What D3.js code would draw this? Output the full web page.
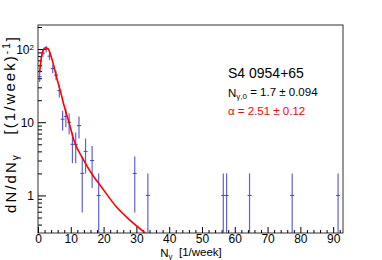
<!DOCTYPE html>
<html>
<head>
<meta charset="utf-8">
<script src="https://cdn.jsdelivr.net/npm/d3@7"></script>
<style>
  body { margin: 0; background: #fff; }
  svg text { font-family: "Liberation Sans", Arial, sans-serif; }
</style>
</head>
<body>
<svg id="chart"></svg>
<script>
WIDTH = 382;
HEIGHT = 260;
MARGIN = { top: 25, right: 39, bottom: 27, left: 38 };

// histogram: number of weeks (dN) vs photons per week (bin lower edge)
var binEdges = [0, 1, 2, 3, 4, 5, 6, 7, 8, 9, 10, 11, 12, 13, 14, 16, 18, 29, 33, 56, 57, 64, 77, 91];
var binCounts = [42, 88, 100, 80, 54, 44, 27, 11, 12, 10, 5, 5, 9, 2, 4, 3, 1, 2, 1, 1, 1, 1, 1, 1];

// fitted curve
var fitN = [0.5, 1.0, 1.5, 2.2, 3.0, 3.8, 4.8, 5.8, 6.8, 8.0, 9.3, 11, 14, 17, 19, 24, 28, 33];
var fitV = [48, 76, 94, 104, 102, 85, 59, 39, 27, 16.5, 10.5, 5.6, 3.0, 1.8, 1.37, 0.69, 0.46, 0.30];

var xTicks = [0, 10, 20, 30, 40, 50, 60, 70, 80, 90];
var yTicks = [1, 10, 100];

function buildChart() {
    var svg = d3.select("#chart").attr("width", WIDTH).attr("height", HEIGHT);
    var w = WIDTH - MARGIN.left - MARGIN.right;
    var h = HEIGHT - MARGIN.top - MARGIN.bottom;
    var g = svg.append("g")
        .attr("transform", "translate(" + MARGIN.left + "," + MARGIN.top + ")");

    var x = d3.scaleLinear().domain([0, 93]).range([0, w]);
    var y = d3.scaleLog().domain([0.307, 213]).range([h, 0]);

    g.append("clipPath").attr("id", "clip")
        .append("rect").attr("width", w).attr("height", h);

    // frame
    g.append("rect")
        .attr("width", w).attr("height", h)
        .attr("fill", "none").attr("stroke", "#333").attr("stroke-width", 1);

    // x axis: major + minor ticks pointing inward
    var xMinor = d3.range(0, 93, 2).filter(function(v) { return v % 10 != 0; });
    g.append("g")
        .attr("transform", "translate(0," + h + ")")
        .call(d3.axisBottom(x).tickValues(xMinor).tickSize(-3).tickFormat(""))
        .call(styleAxis);
    g.append("g")
        .attr("transform", "translate(0," + h + ")")
        .call(d3.axisBottom(x).tickValues(xTicks).tickSize(-6))
        .call(styleAxis)
        .selectAll("text").attr("font-size", 12).attr("dy", "0.71em").attr("y", 1.5);

    // y axis (log)
    var yMinor = [];
    [0.1, 1, 10, 100].forEach(function(d) {
        for (var k = 2; k <= 9; k++) {
            var v = d * k;
            if (v >= 0.307 && v <= 213) yMinor.push(v);
        }
    });
    g.append("g")
        .call(d3.axisLeft(y).tickValues(yMinor).tickSize(-4).tickFormat(""))
        .call(styleAxis);
    var yAx = g.append("g")
        .call(d3.axisLeft(y).tickValues(yTicks).tickSize(-8).tickFormat(""))
        .call(styleAxis);
    yAx.selectAll(".tick").append("text")
        .attr("x", -4).attr("dy", "0.35em")
        .attr("text-anchor", "end").attr("fill", "#000").attr("font-size", 12)
        .each(function(d) {
            var t = d3.select(this);
            if (d == 100) {
                t.text("10");
                t.append("tspan").attr("dy", "-0.45em").attr("font-size", 8).text("2");
            } else {
                t.text(d == 10 ? "10" : "1");
            }
        });

    var plot = g.append("g").attr("clip-path", "url(#clip)");

    // error bars
    var blue = "#4646c4";
    var pts = binEdges.map(function(e, i) { return { n: e + 0.5, v: binCounts[i] }; });
    plot.selectAll(".err")
        .data(pts)
        .enter().append("line")
        .attr("x1", function(d) { return x(d.n); })
        .attr("x2", function(d) { return x(d.n); })
        .attr("y1", function(d) { return y(d.v + Math.sqrt(d.v)); })
        .attr("y2", function(d) {
            var lo = d.v - Math.sqrt(d.v);
            return lo > 0.307 ? y(lo) : h;
        })
        .attr("stroke", blue).attr("stroke-width", 1.2).attr("stroke-opacity", 0.85);
    plot.selectAll(".cap")
        .data(pts)
        .enter().append("line")
        .attr("x1", function(d) { return x(d.n) - 2; })
        .attr("x2", function(d) { return x(d.n) + 2; })
        .attr("y1", function(d) { return y(d.v); })
        .attr("y2", function(d) { return y(d.v); })
        .attr("stroke", blue).attr("stroke-width", 1);

    // fit curve
    var line = d3.line()
        .x(function(d, i) { return x(fitN[i]); })
        .y(function(d) { return y(d); })
        .curve(d3.curveMonotoneX);
    plot.append("path")
        .datum(fitV)
        .attr("d", line)
        .attr("fill", "none").attr("stroke", "#ff0000").attr("stroke-width", 1.6);

    // legend text
    g.append("text")
        .attr("x", 190).attr("y", 53)
        .attr("font-size", 14).attr("fill", "#000")
        .text("S4 0954+65");
    var t2 = g.append("text")
        .attr("x", 190).attr("y", 72)
        .attr("font-size", 11.5).attr("fill", "#000");
    t2.append("tspan").text("N");
    t2.append("tspan").attr("dy", "0.3em").attr("font-size", 8).text("γ,0");
    t2.append("tspan").attr("dy", "-0.3em").text(" = 1.7 ± 0.094");
    g.append("text")
        .attr("x", 190).attr("y", 90)
        .attr("font-size", 11.5).attr("fill", "#ff0000")
        .text("α = 2.51 ± 0.12");

    // axis titles
    var xt = svg.append("text")
        .attr("x", 191).attr("y", 257)
        .attr("text-anchor", "middle").attr("font-size", 11.5).attr("fill", "#000");
    xt.append("tspan").text("N");
    xt.append("tspan").attr("dy", "0.25em").attr("font-size", 8).text("γ");
    xt.append("tspan").attr("dy", "-0.25em").text("\u00a0\u00a0[1/week]");

    var yt = svg.append("text")
        .attr("transform", "translate(16,125) rotate(-90)")
        .attr("text-anchor", "middle").attr("font-size", 15).attr("fill", "#000")
        .attr("textLength", 176).attr("lengthAdjust", "spacing");
    yt.append("tspan").text("dN/dN");
    yt.append("tspan").attr("dy", "0.3em").attr("font-size", 10).text("γ");
    yt.append("tspan").attr("dy", "-0.3em").text("\u00a0\u00a0\u00a0[(1/week)");
    yt.append("tspan").attr("dy", "-0.45em").attr("font-size", 10).text("-1");
    yt.append("tspan").attr("dy", "0.45em").text("]");
}

function styleAxis(sel) {
    sel.select(".domain").remove();
    sel.selectAll(".tick line").attr("stroke", "#000").attr("stroke-width", 1);
}

buildChart();
</script>
</body>
</html>
